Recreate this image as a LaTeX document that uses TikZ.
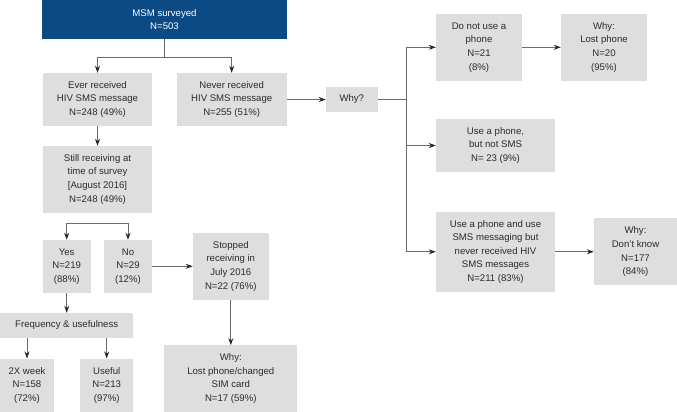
\documentclass[tikz,border=0pt]{standalone}
\usepackage{fontspec}
\setmainfont{Liberation Sans}
\usepackage{tikz}
\usetikzlibrary{arrows.meta}

\definecolor{msmblue}{HTML}{0B4A85}
\definecolor{boxgrey}{HTML}{DEDEDE}
\definecolor{linegrey}{HTML}{6A6A6A}
\definecolor{textgrey}{HTML}{2B2B2B}

\tikzset{
  box/.style={fill=boxgrey, text=textgrey, align=center, inner sep=0pt,
    font=\fontsize{9.6}{13.6}\selectfont},
  line/.style={draw=linegrey, line width=0.9pt},
  arrow/.style={line, -{Stealth[length=7pt,width=5pt,fill=black!85,color=black!85]}}
}

\begin{document}
\begin{tikzpicture}[x=1pt,y=-1pt]
  \useasboundingbox (0,0) rectangle (677,412);

  % left column
  \node[box, fill=msmblue, text=white, minimum width=244.4pt, minimum height=39.3pt]
    (msm) at (164.5,19.6) {MSM surveyed\\N=503};
  \node[box, minimum width=109.6pt, minimum height=53pt]
    (ever) at (97.5,99.5) {Ever received\\HIV SMS message\\N=248 (49\%)};
  \node[box, minimum width=110pt, minimum height=53pt]
    (never) at (231.7,99.5) {Never received\\HIV SMS message\\N=255 (51\%)};
  \node[box, minimum width=109.6pt, minimum height=66.7pt]
    (still) at (97.5,179.3) {Still receiving at\\time of survey\\{[August 2016]}\\N=248 (49\%)};
  \node[box, minimum width=48pt, minimum height=52.7pt]
    (yes) at (66.7,266.3) {Yes\\N=219\\(88\%)};
  \node[box, minimum width=48pt, minimum height=52.7pt]
    (no) at (128,266.3) {No\\N=29\\(12\%)};
  \node[box, minimum width=75.7pt, minimum height=66.6pt]
    (stopped) at (230.8,266.3) {Stopped\\receiving in\\July 2016\\N=22 (76\%)};
  \node[box, minimum width=133.3pt, minimum height=25pt]
    (freq) at (66.7,325.5) {Frequency \& usefulness};
  \node[box, minimum width=54pt, minimum height=53.3pt]
    (twice) at (27,385.3) {2X week\\N=158\\(72\%)};
  \node[box, minimum width=53.3pt, minimum height=53.3pt]
    (useful) at (106.7,385.3) {Useful\\N=213\\(97\%)};
  \node[box, minimum width=133pt, minimum height=66.7pt]
    (lostsim) at (230.8,378.7) {Why:\\Lost phone/changed\\SIM card\\N=17 (59\%)};

  % right part
  \node[box, minimum width=51.7pt, minimum height=24.7pt]
    (why) at (351.8,99.5) {Why?};
  \node[box, minimum width=86pt, minimum height=66.7pt]
    (nophone) at (479,47.3) {Do not use a\\phone\\N=21\\(8\%)};
  \node[box, minimum width=86pt, minimum height=66.7pt]
    (lostphone) at (604,47.3) {Why:\\Lost phone\\N=20\\(95\%)};
  \node[box, minimum width=119pt, minimum height=53pt]
    (nosms) at (495.5,145.5) {Use a phone,\\but not SMS\\N= 23 (9\%)};
  \node[box, minimum width=119pt, minimum height=80.4pt]
    (usesms) at (495.5,251.8) {Use a phone and use\\SMS messaging but\\never received HIV\\SMS messages\\N=211 (83\%)};
  \node[box, minimum width=83pt, minimum height=66.7pt]
    (dontknow) at (635.5,251.8) {Why:\\Don't know\\N=177\\(84\%)};

  % connectors
  \coordinate (topsplit) at (164.5,57);
  \coordinate (ynsplit) at (97.5,223.3);
  \coordinate (whysplit) at (406.7,99.5);

  \draw[line] (msm.south) -- (topsplit);
  \draw[arrow] (topsplit) -| (ever.north);
  \draw[arrow] (topsplit) -| (never.north);
  \draw[arrow] (ever.south) -- (still.north);
  \draw[arrow] (never.east) -- (why.west);
  \draw[arrow] (ynsplit) -| (yes.north);
  \draw[arrow] (ynsplit) -| (no.north);
  \draw[arrow] (no.east) -- (stopped.west);
  \draw[arrow] (stopped.south) -- (lostsim.north);
  \draw[arrow] (yes.south) -- (freq.north);
  \draw[arrow] (twice |- freq.south) -- (twice.north);
  \draw[arrow] (useful |- freq.south) -- (useful.north);

  \draw[line] (why.east) -- (whysplit);
  \draw[arrow] (whysplit) |- (nophone.west);
  \draw[arrow] (whysplit) |- (nosms.west);
  \draw[arrow] (whysplit) |- (usesms.west);
  \draw[arrow] (nophone.east) -- (lostphone.west);
  \draw[arrow] (usesms.east) -- (dontknow.west);

\end{tikzpicture}
\end{document}
